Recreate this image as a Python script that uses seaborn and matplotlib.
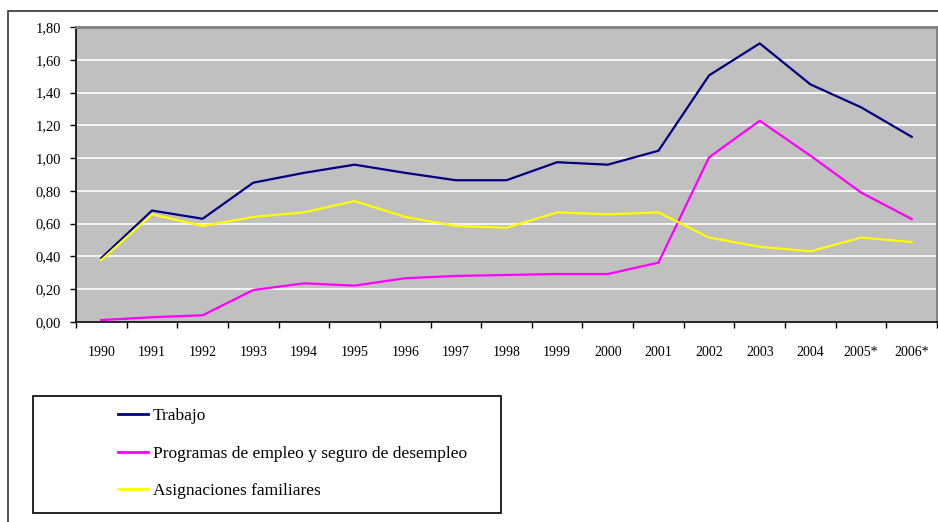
import matplotlib
matplotlib.use("Agg")
import matplotlib.pyplot as plt
import matplotlib.patches as mpatches
from matplotlib.ticker import FuncFormatter, FixedLocator, MultipleLocator
import seaborn as sns
import pandas as pd

years = ["1990", "1991", "1992", "1993", "1994", "1995", "1996", "1997", "1998",
         "1999", "2000", "2001", "2002", "2003", "2004", "2005*", "2006*"]
trabajo = [0.39, 0.68, 0.63, 0.85, 0.91, 0.96, 0.91, 0.865, 0.865,
           0.975, 0.96, 1.045, 1.505, 1.70, 1.45, 1.31, 1.13]
programas = [0.012, 0.029, 0.041, 0.195, 0.236, 0.222, 0.267, 0.281, 0.287,
             0.293, 0.293, 0.362, 1.005, 1.228, 1.015, 0.79, 0.628]
asignaciones = [0.378, 0.657, 0.586, 0.641, 0.669, 0.738, 0.641, 0.586, 0.575,
                0.669, 0.657, 0.669, 0.515, 0.459, 0.431, 0.515, 0.488]
series_names = ["Trabajo", "Programas de empleo y seguro de desempleo", "Asignaciones familiares"]
colors = ["#000080", "#FF00FF", "#FFFF00"]

rows = []
for name, vals in zip(series_names, [trabajo, programas, asignaciones]):
    for i, v in enumerate(vals):
        rows.append({"pos": i, "year": years[i], "value": v, "serie": name})
df = pd.DataFrame(rows)

plt.rcParams["font.family"] = ["Liberation Serif", "DejaVu Serif"]

W, H = 938, 522
fig = plt.figure(figsize=(W / 100, H / 100), dpi=100)
fig.patch.set_facecolor("white")

# outer frame of the chart object
fig.patches.append(mpatches.Rectangle((8 / W, -0.2), 1.2, (H - 11) / H + 0.2,
                                      transform=fig.transFigure, fill=False,
                                      edgecolor="#333333", linewidth=1.2))

ax = fig.add_axes([76 / W, 1 - 322 / H, (937 - 76) / W, (322 - 27) / H])
ax.set_facecolor("#C0C0C0")

sns.lineplot(data=df, x="pos", y="value", hue="serie", hue_order=series_names,
             palette=dict(zip(series_names, colors)), linewidth=1.6,
             ax=ax, legend=False, sort=False)

ax.set_xlim(-0.5, len(years) - 0.5)
ax.set_ylim(0, 1.8)
ax.yaxis.set_major_locator(MultipleLocator(0.2))
ax.yaxis.set_major_formatter(FuncFormatter(lambda v, p: f"{v:.2f}".replace(".", ",")))
ax.grid(axis="y", color="white", linewidth=1.2)
ax.set_axisbelow(True)

ax.set_xticks(range(len(years)))
ax.set_xticklabels(years)
ax.xaxis.set_minor_locator(FixedLocator([i - 0.5 for i in range(len(years) + 1)]))
ax.tick_params(axis="x", which="major", length=0, pad=17, labelsize=10)
ax.tick_params(axis="x", which="minor", length=4, width=1, color="black")
ax.tick_params(axis="y", length=4, width=1, pad=7, labelsize=10.5)
ax.set_xlabel("")
ax.set_ylabel("")

for s in ["left", "bottom"]:
    ax.spines[s].set_color("black")
    ax.spines[s].set_linewidth(1.2)
for s in ["top", "right"]:
    ax.spines[s].set_color("#808080")
    ax.spines[s].set_linewidth(2)

# legend box
fig.patches.append(mpatches.Rectangle((33 / W, 1 - 513 / H), (501 - 33) / W, (513 - 396) / H,
                                      transform=fig.transFigure, fill=False,
                                      edgecolor="black", linewidth=1.2))
handles = [plt.Line2D([], [], color=c, linewidth=2) for c in colors]
fig.legend(handles, series_names, loc="upper left",
           bbox_to_anchor=(118 / W, 1 - 408 / H), frameon=False,
           fontsize=12.5, handlelength=1.75, handletextpad=0.25,
           labelspacing=1.23, borderpad=0, borderaxespad=0)

fig.savefig("out.png", dpi=100, facecolor="white")
